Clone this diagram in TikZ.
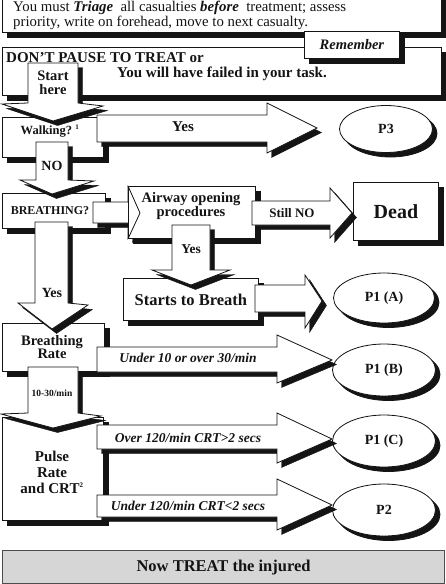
\documentclass[tikz,border=0pt]{standalone}
\usepackage{fontspec}
\setmainfont{Liberation Serif}
\usetikzlibrary{shapes.geometric}
\definecolor{ink}{HTML}{141414}
\definecolor{greybar}{HTML}{D6D6D6}
\tikzset{
  shp/.style={draw=ink, line width=0.8pt, fill=white,
    preaction={fill=ink, draw=ink, transform canvas={xshift=4.5pt, yshift=-4.5pt}}},
  plain/.style={draw=ink, line width=0.8pt},
  boxn/.style={shp, anchor=north west, inner sep=0pt},
  elln/.style={shp, ellipse, inner sep=0pt, text=ink, font=\fontsize{14}{16}\selectfont\bfseries},
  lbl/.style={text=ink, inner sep=0pt, align=center},
  bf/.style={lbl, font=\fontsize{#1}{#1}\selectfont\bfseries},
  bfi/.style={lbl, font=\fontsize{#1}{#1}\selectfont\bfseries\itshape},
}
\begin{document}
\begin{tikzpicture}[x=1pt,y=-1pt]
\useasboundingbox (0,0) rectangle (446,584);
% top boxes
\node[boxn, minimum width=439, minimum height=42] (topbox) at (2,-10) {};
\node[lbl, anchor=base west, font=\fontsize{14.8}{16}\selectfont] (t1) at (13,11)
  {You must \textbf{\textit{Triage}}\ \ all casualties \textbf{\textit{before}}\ \ treatment; assess};
\node[lbl, anchor=base west, font=\fontsize{14.8}{16}\selectfont] (t2) at (13,26)
  {priority, write on forehead, move to next casualty.};
\node[boxn, minimum width=439, minimum height=48] (pausebox) at (2,47) {};
\node[bf=15, anchor=base west] (pause) at (6,62) {DON’T PAUSE TO TREAT or};
\node[bf=15, anchor=base] (fail) at (222,77) {You will have failed in your task.};
\node[boxn, minimum width=95, minimum height=27] (remember) at (304,31) {};
\node[bfi=14.5] (remtxt) at (remember.center) {Remember};
% left column boxes
\node[boxn, minimum width=101, minimum height=40] (walk) at (2,117) {};
\node[boxn, minimum width=103, minimum height=35] (breath) at (2,193) {};
% breathing -> airway arrow (under the airway box)
\draw[shp] (93,202) -- (128,202) -- (128,187) -- (140,213) -- (128,238) -- (128,223) -- (93,223) -- cycle;
\node[boxn, minimum width=127, minimum height=52] (airway) at (128,186) {};
\draw[plain] (airway.north west) -- (140,213) -- (airway.south west);
\node[boxn, minimum width=85, minimum height=58] (dead) at (353,182) {};
\node[boxn, minimum width=135, minimum height=42] (starts) at (123,278) {};
\node[boxn, minimum width=102, minimum height=48] (rate) at (2,323) {};
\node[boxn, minimum width=101, minimum height=103] (pulse) at (2,417) {};
% ellipses
\node[elln, minimum width=93, minimum height=47] (p3) at (386,129) {P3};
\node[elln, minimum width=101, minimum height=50] (p1a) at (384,298) {P1 (A)};
\node[elln, minimum width=103, minimum height=52] (p1b) at (384,370) {P1 (B)};
\node[elln, minimum width=103, minimum height=52] (p1c) at (384,441) {P1 (C)};
\node[elln, minimum width=103, minimum height=52] (p2) at (384,510) {P2};
% block arrows
\draw[shp] (28,63) -- (78,63) -- (78,103) -- (103,106) -- (53,121) -- (2,104) -- (28,103) -- cycle;
\draw[shp] (97,115) -- (267,115) -- (267,103) -- (317,128) -- (267,153) -- (267,142) -- (97,142) -- cycle;
\draw[shp] (36,142) -- (68,142) -- (68,180) -- (94,181) -- (52,194) -- (20,180) -- (36,180) -- cycle;
\draw[shp] (252,201) -- (330,201) -- (330,188) -- (352,213) -- (330,238) -- (330,225) -- (252,225) -- cycle;
\draw[shp] (172,225) -- (210,225) -- (210,270) -- (230,270) -- (191,285) -- (152,270) -- (172,270) -- cycle;
\draw[shp] (255,285) -- (305,285) -- (305,275) -- (322,301) -- (305,328) -- (305,312) -- (255,312) -- cycle;
\draw[shp] (35,222) -- (68,222) -- (68,303) -- (88,305) -- (52,329) -- (18,303) -- (35,303) -- cycle;
\draw[shp] (97,347) -- (277,347) -- (277,335) -- (332,360) -- (277,383) -- (277,372) -- (97,372) -- cycle;
\draw[shp] (28,367) -- (78,367) -- (78,413) -- (101,416) -- (53,428) -- (1,414) -- (28,413) -- cycle;
\draw[shp] (97,425) -- (277,425) -- (277,413) -- (332,439) -- (277,463) -- (277,449) -- (97,449) -- cycle;
\draw[shp] (97,495) -- (277,495) -- (277,479) -- (332,505) -- (277,530) -- (277,517) -- (97,517) -- cycle;
% labels
\node[bf=14.5] (starttxt) at (53,83) {Start\\[-1pt]here};
\node[bf=12.5] (walktxt) at (50,131) {Walking?\ \textsuperscript{\fontsize{7}{7}\selectfont 1}};
\node[bf=15] (yes1) at (183,127) {Yes};
\node[bf=14] (notxt) at (52,166) {NO};
\node[bf=12] (breathtxt) at (50,211) {BREATHING?};
\node[bf=14.5] (airwaytxt) at (191,206) {Airway opening\\[0pt]procedures};
\node[bf=13] (stillno) at (292,213) {Still NO};
\node[bf=20] (deadtxt) at (dead.center) {Dead};
\node[bf=13.5] (yes2) at (191,249) {Yes};
\node[bf=16.5] (startstxt) at (starts.center) {Starts to Breath};
\node[bf=14] (yes3) at (52,293) {Yes};
\node[bf=14.5] (ratetxt) at (52,347) {Breathing\\[-1pt]Rate};
\node[bfi=13.5] (under10) at (188,358) {Under 10 or over 30/min};
\node[bf=9.5] (tenthirty) at (52,393) {10-30/min};
\node[bf=15] (pulsetxt) at (52,472) {Pulse\\[1pt]Rate\\[1pt]and CRT\textsuperscript{\fontsize{7}{7}\selectfont 2}};
\node[bfi=13.5] (over120) at (188,438) {Over 120/min CRT>2 secs};
\node[bfi=13.5] (under120) at (188,506) {Under 120/min CRT<2 secs};
% bottom bar
\node[anchor=north west, draw=black!70, line width=1.2pt, fill=greybar, minimum width=442, minimum height=33, inner sep=0pt] (treat) at (2,550) {};
\node[bf=16.5] (treattxt) at (treat.center) {Now TREAT the injured};
\end{tikzpicture}
\end{document}
